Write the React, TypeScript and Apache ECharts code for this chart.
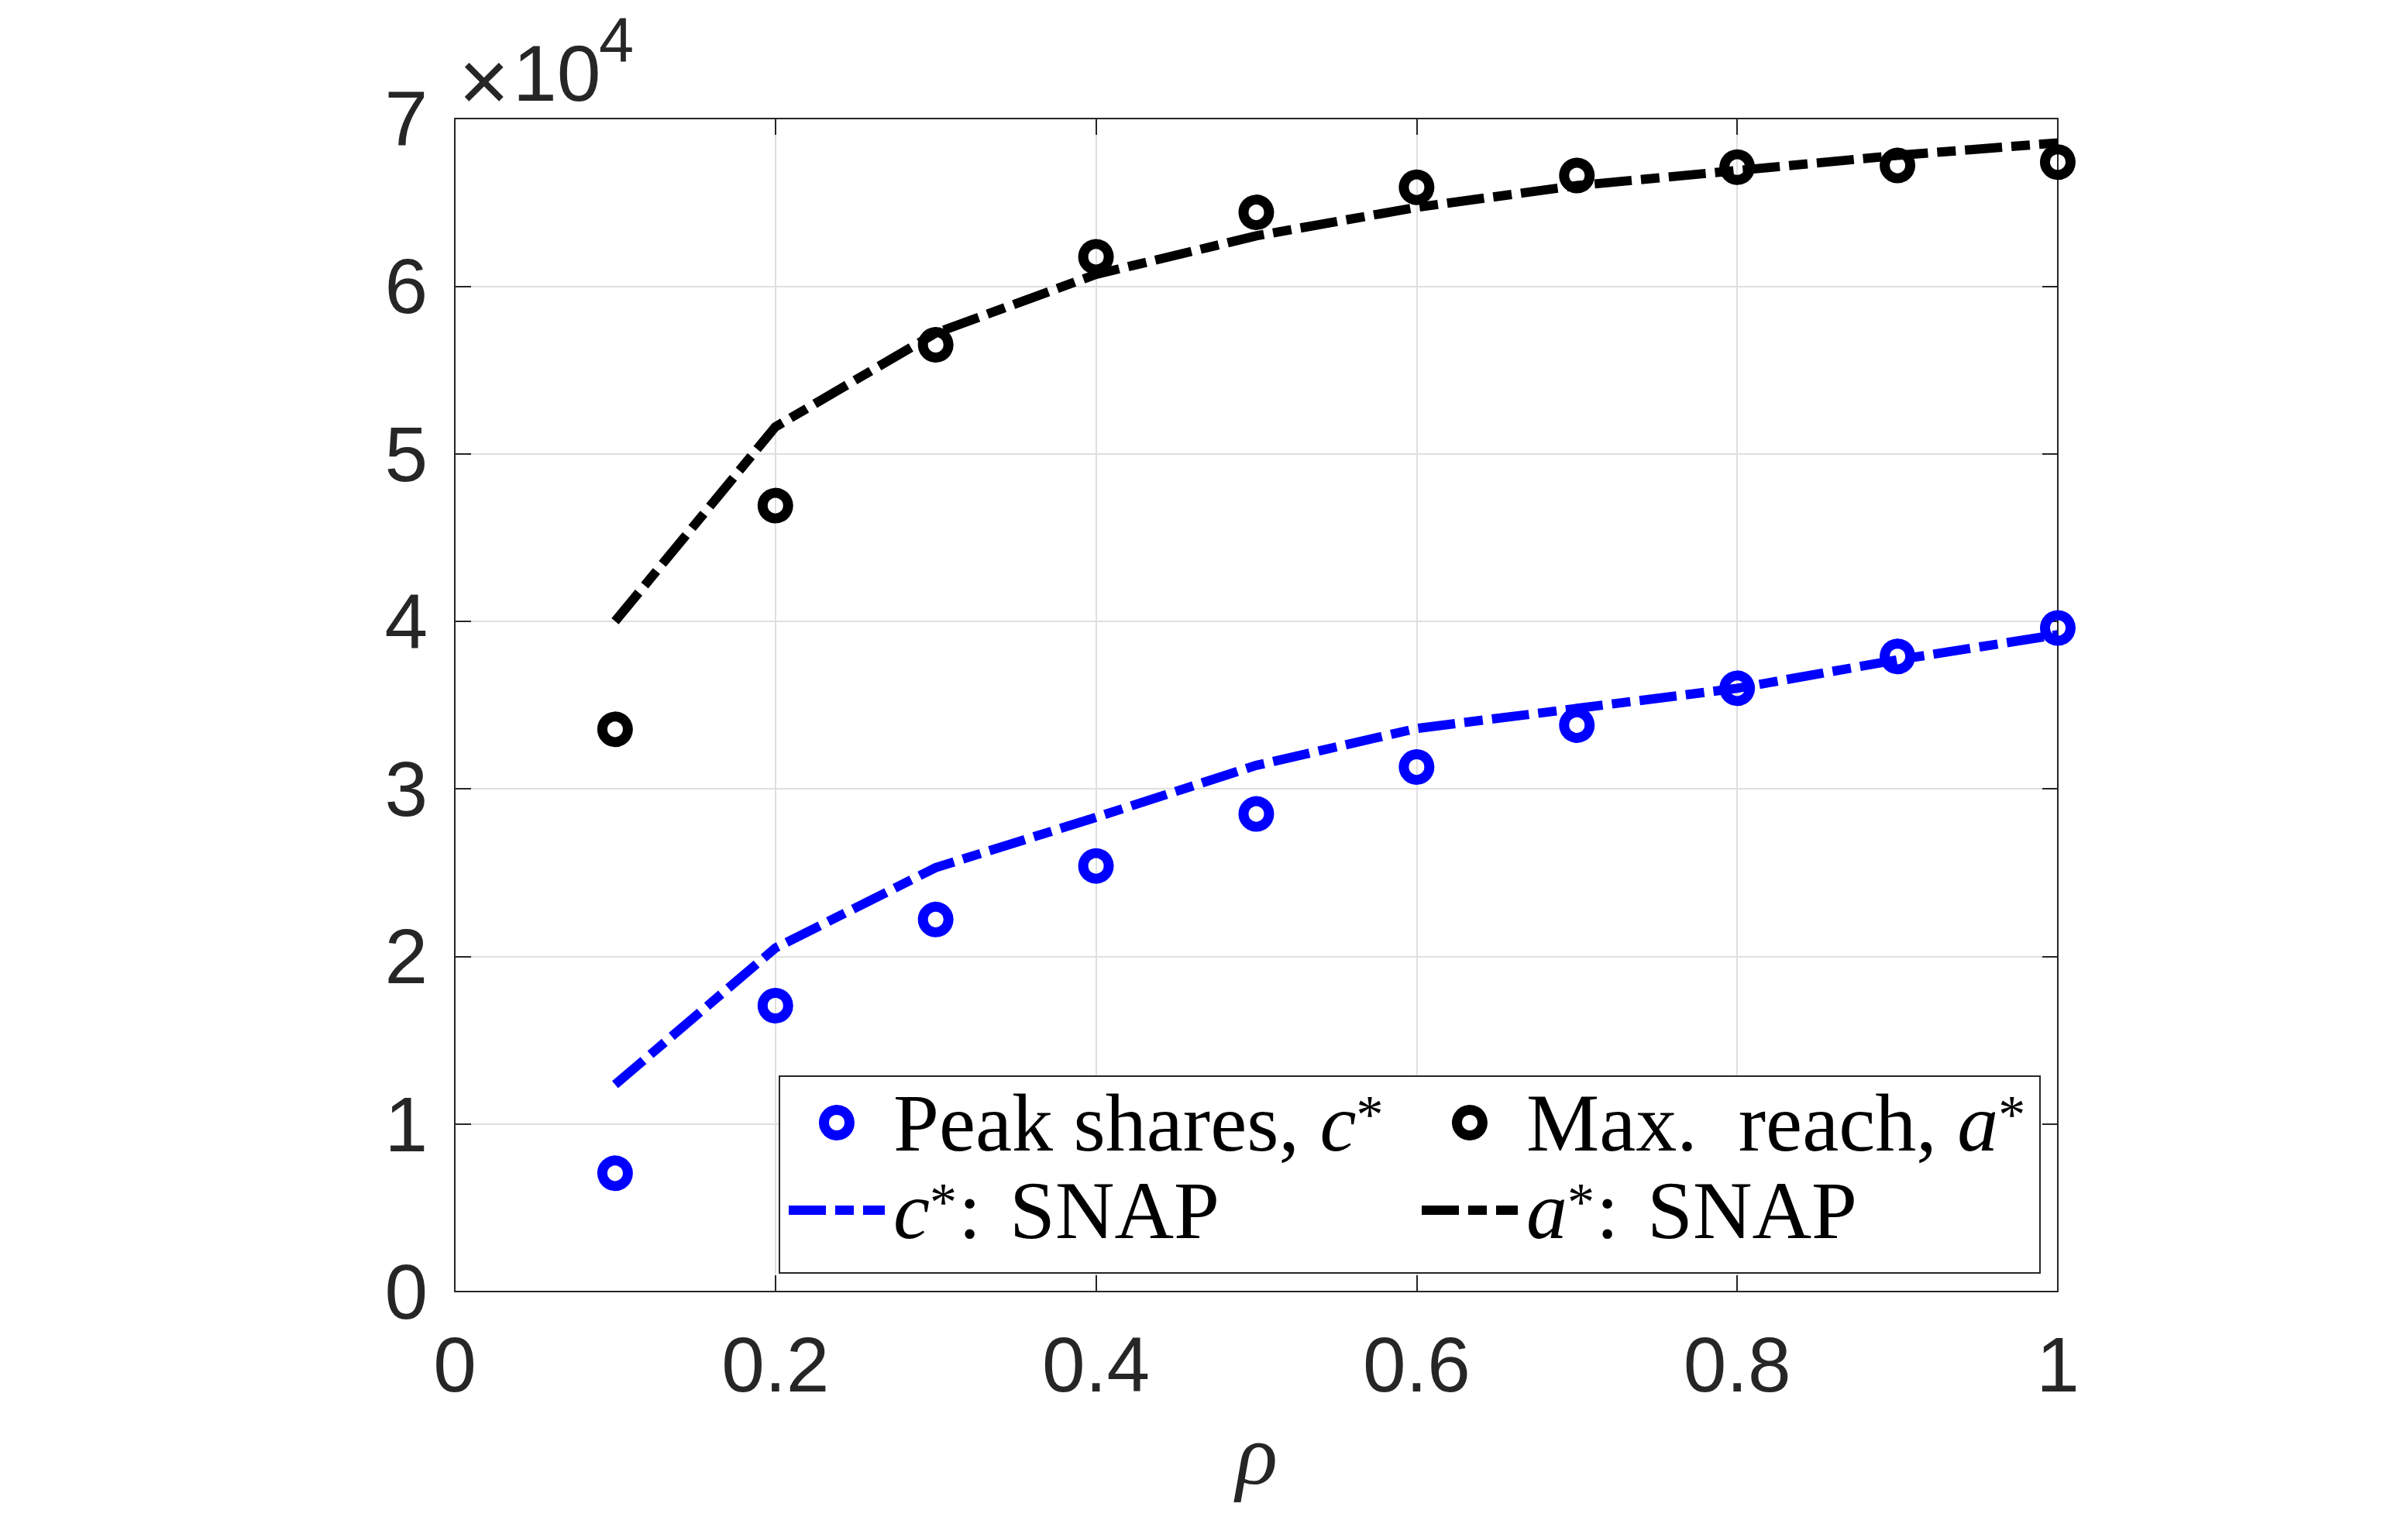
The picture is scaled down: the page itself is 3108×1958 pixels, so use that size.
import React, { useEffect, useRef } from "react";
import * as echarts from "echarts";

// ---- data ----
const rho = [0.1, 0.2, 0.3, 0.4, 0.5, 0.6, 0.7, 0.8, 0.9, 1.0];
const peakShares = [7060, 17060, 22200, 25400, 28500, 31300, 33800, 36000, 37900, 39600];
const maxReach = [33550, 46900, 56500, 61750, 64400, 65900, 66600, 67100, 67200, 67400];
const snapC = [12350, 20500, 25300, 28300, 31400, 33600, 34800, 36000, 37700, 39200];
const snapA = [40000, 51600, 57200, 60700, 63000, 64700, 66000, 66900, 67800, 68550];

const xMin = 0;
const xMax = 1;
const xStep = 0.2;
const yMin = 0;
const yMax = 70000;
const yStep = 10000;
const yScale = 10000;

const nPeak = "Peak shares, c*";
const nReach = "Max. reach, a*";
const nSnapC = "c*: SNAP";
const nSnapA = "a*: SNAP";

const legendRich: Record<string, string> = {
  [nPeak]: "{n|Peak shares, }{i|c}{s|*}",
  [nReach]: "{n|Max.  reach, }{i|a}{s|*}",
  [nSnapC]: "{i|c}{s|*}{n|: }{t|SNAP}",
  [nSnapA]: "{i|a}{s|*}{n|: }{t|SNAP}",
};

const BLUE = "#0000ff";
const BLACK = "#000000";
const AXIS = "#262626";
const GRID = "#dfdfdf";

export default function App() {
  const ref = useRef<HTMLDivElement>(null);

  useEffect(() => {
    document.body.style.margin = "0";
    const chart = echarts.init(ref.current!, undefined, { renderer: "svg" });

    const pts = (ys: number[]) => rho.map((x, i) => [x, ys[i]]);
    const dash = [48, 12, 24, 12];
    const dashIcon = "path://M0,0h48v12h-48z M60,0h24v12h-24z M96,0h28v12h-28z";

    const axisLine = { show: true, onZero: false, lineStyle: { color: AXIS, width: 2 } };
    const tickIn = { show: true, inside: true, length: 21, lineStyle: { color: AXIS, width: 2 } };
    const labelFont = { fontFamily: "Liberation Sans", fontSize: 100, color: AXIS };

    const LH = 116;
    const FS = 106;
    const rich = {
      n: { fontFamily: "Liberation Serif", fontSize: FS, color: "#000", lineHeight: LH },
      t: { fontFamily: "Liberation Serif", fontSize: FS, color: "#000", lineHeight: LH, padding: [0, 0, 0, 10] },
      i: { fontFamily: "Liberation Serif", fontStyle: "italic", fontSize: FS, color: "#000", lineHeight: LH },
      s: {
        fontFamily: "Liberation Serif",
        fontSize: 70,
        color: "#000",
        lineHeight: 70,
        verticalAlign: "middle",
        padding: [0, 2, 21, 0],
      },
    };

    const legendBase = {
      orient: "vertical",
      top: 1396,
      itemGap: 7,
      itemWidth: 124,
      itemHeight: 33,
      padding: 0,
      selectedMode: false,
      z: 10,
      formatter: (name: string) => legendRich[name] || name,
      textStyle: { fontFamily: "Liberation Serif", fontSize: FS, color: "#000", padding: [0, 0, 0, 6], rich },
    };

    const option: any = {
      animation: false,
      backgroundColor: "#ffffff",
      grid: { left: 587, right: 452, top: 153, bottom: 291, containLabel: false },
      xAxis: [
        {
          type: "value",
          min: xMin,
          max: xMax,
          interval: xStep,
          position: "bottom",
          axisLine,
          axisTick: tickIn,
          axisLabel: { ...labelFont, margin: 44 },
          splitLine: { show: true, lineStyle: { color: GRID, width: 2 } },
        },
        {
          type: "value",
          min: xMin,
          max: xMax,
          interval: xStep,
          position: "top",
          axisLine,
          axisTick: tickIn,
          axisLabel: { show: false },
          splitLine: { show: false },
        },
      ],
      yAxis: [
        {
          type: "value",
          min: yMin,
          max: yMax,
          interval: yStep,
          position: "left",
          axisLine,
          axisTick: { ...tickIn, length: 21 },
          axisLabel: { ...labelFont, margin: 35, formatter: (v: number) => String(v / yScale) },
          splitLine: { show: true, lineStyle: { color: GRID, width: 2 } },
        },
        {
          type: "value",
          min: yMin,
          max: yMax,
          interval: yStep,
          position: "right",
          axisLine,
          axisTick: { ...tickIn, length: 20 },
          axisLabel: { show: false },
          splitLine: { show: false },
        },
      ],
      legend: [
        {
          ...legendBase,
          left: 1018,
          data: [
            { name: nPeak, icon: "circle", itemStyle: { color: "rgba(0,0,0,0)", borderColor: BLUE, borderWidth: 13, opacity: 1 } },
            { name: nSnapC, icon: dashIcon, itemStyle: { color: BLUE, borderWidth: 0, opacity: 1 } },
          ],
        },
        {
          ...legendBase,
          left: 1835,
          data: [
            { name: nReach, icon: "circle", itemStyle: { color: "rgba(0,0,0,0)", borderColor: BLACK, borderWidth: 13, opacity: 1 } },
            { name: nSnapA, icon: dashIcon, itemStyle: { color: BLACK, borderWidth: 0, opacity: 1 } },
          ],
        },
      ],
      graphic: [
        {
          type: "rect",
          z: 8,
          shape: { x: 1006, y: 1389, width: 1627, height: 254 },
          style: { fill: "#ffffff", stroke: AXIS, lineWidth: 2 },
        },
        {
          type: "text",
          x: 592,
          y: 104,
          style: { text: "×", fontFamily: "Liberation Sans", fontSize: 112, fill: AXIS, align: "left", verticalAlign: "middle" },
        },
        {
          type: "text",
          x: 662,
          y: 95,
          style: { text: "10", fontFamily: "Liberation Sans", fontSize: 102, fill: AXIS, align: "left", verticalAlign: "middle" },
        },
        {
          type: "text",
          x: 773,
          y: 52,
          style: { text: "4", fontFamily: "Liberation Sans", fontSize: 81, fill: AXIS, align: "left", verticalAlign: "middle" },
        },
        {
          type: "text",
          x: 1622,
          y: 1877,
          style: {
            text: "ρ",
            fontFamily: "Liberation Serif",
            fontStyle: "italic",
            fontSize: 112,
            fill: AXIS,
            align: "center",
            verticalAlign: "middle",
          },
        },
      ],
      series: [
        {
          name: nPeak,
          type: "scatter",
          data: pts(peakShares),
          symbol: "circle",
          symbolSize: 33,
          itemStyle: { color: "rgba(0,0,0,0)", borderColor: BLUE, borderWidth: 13, opacity: 1 },
          silent: true,
          emphasis: { disabled: true },
        },
        {
          name: nReach,
          type: "scatter",
          data: pts(maxReach),
          symbol: "circle",
          symbolSize: 33,
          itemStyle: { color: "rgba(0,0,0,0)", borderColor: BLACK, borderWidth: 13, opacity: 1 },
          silent: true,
          emphasis: { disabled: true },
        },
        {
          name: nSnapC,
          type: "line",
          data: pts(snapC),
          symbol: "none",
          itemStyle: { color: BLUE },
          lineStyle: { color: BLUE, width: 12, type: dash, cap: "butt", join: "miter" },
          silent: true,
          emphasis: { disabled: true },
        },
        {
          name: nSnapA,
          type: "line",
          data: pts(snapA),
          symbol: "none",
          itemStyle: { color: BLACK },
          lineStyle: { color: BLACK, width: 12, type: dash, cap: "butt", join: "miter" },
          silent: true,
          emphasis: { disabled: true },
        },
      ],
    };

    chart.setOption(option);
    return () => chart.dispose();
  }, []);

  return <div ref={ref} style={{ width: 3108, height: 1958 }} />;
}
